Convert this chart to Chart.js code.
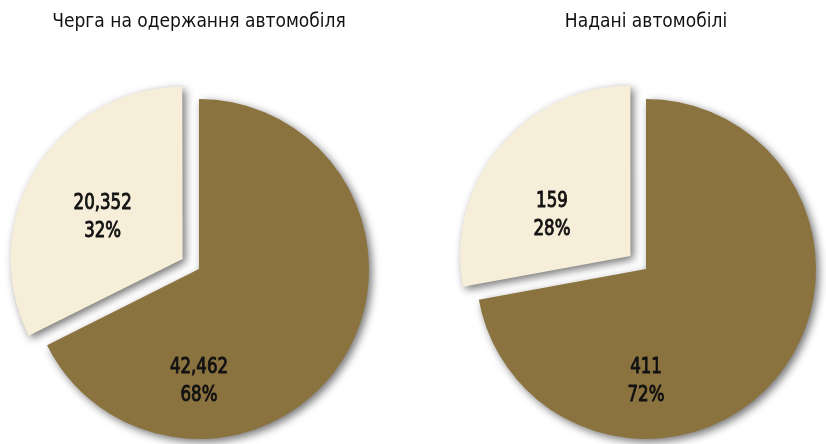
<!DOCTYPE html>
<html>
<head>
<meta charset="utf-8">
<script src="https://cdn.jsdelivr.net/npm/chart.js"></script>
<style>
  html, body { margin: 0; padding: 0; background: #fff; overflow: hidden; }
  .wrap { position: absolute; top: 0; width: 413px; height: 444px; }
  #left { left: 0; }
  #right { left: 413px; }
</style>
</head>
<body>
<div class="wrap" id="left"><canvas id="queueChart" width="413" height="444"></canvas></div>
<div class="wrap" id="right"><canvas id="givenChart" width="413" height="444"></canvas></div>
<script>
const queueTitle = "Черга на одержання автомобіля";
const givenTitle = "Надані автомобілі";
const sliceLabels = ["Решта", "Частка"];
const queueValues = [42462, 20352];
const givenValues = [411, 159];
const sliceColors = ["#8b7340", "#f6eed8"];

const FONT = "'DejaVu Sans Condensed', 'Open Sans', sans-serif";

const shadowPlugin = {
  id: "sliceShadow",
  beforeDatasetsDraw(chart) {
    const ctx = chart.ctx;
    ctx.save();
    ctx.shadowColor = "rgba(0,0,0,0.55)";
    ctx.shadowBlur = 8;
    ctx.shadowOffsetX = 3;
    ctx.shadowOffsetY = 3;
  },
  afterDatasetsDraw(chart) {
    chart.ctx.restore();
  }
};

const valueLabelPlugin = {
  id: "valueLabels",
  afterDatasetsDraw(chart, args, opts) {
    const ctx = chart.ctx;
    const meta = chart.getDatasetMeta(0);
    const values = chart.data.datasets[0].data;
    const total = values.reduce((a, b) => a + b, 0);
    meta.data.forEach((arc, i) => {
      const p = arc.getProps(["x", "y", "startAngle", "endAngle", "outerRadius", "circumference"], true);
      // same shift the arc uses when it is pulled out
      const off = (arc.options.offset || 0) / 4;
      const fix = 1 - Math.sin(Math.min(Math.PI, p.circumference || 0));
      const t = off * (1 + fix);
      const half = (p.startAngle + p.endAngle) / 2;
      const cx = p.x + Math.cos(half) * t;
      const cy = p.y + Math.sin(half) * t;
      const pos = opts.positions[i];
      const pct = Math.round(values[i] / total * 100) + "%";
      ctx.save();
      ctx.translate(cx + pos[0] * p.outerRadius, cy + pos[1] * p.outerRadius);
      ctx.scale(0.84, 1);
      ctx.fillStyle = "#111";
      ctx.strokeStyle = "#111";
      ctx.lineWidth = 0.9;
      ctx.font = "22px " + FONT;
      ctx.textAlign = "center";
      ctx.textBaseline = "middle";
      const top = values[i].toLocaleString("en-US");
      ctx.fillText(top, 0, -14);
      ctx.strokeText(top, 0, -14);
      ctx.fillText(pct, 0, 14);
      ctx.strokeText(pct, 0, 14);
      ctx.restore();
    });
  }
};

function makePie(id, title, values, offsets, padding) {
  return new Chart(document.getElementById(id), {
    type: "pie",
    data: {
      labels: sliceLabels,
      datasets: [{
        data: values,
        backgroundColor: sliceColors,
        borderWidth: 0,
        offset: offsets,
        hoverOffset: 0,
        clip: false
      }]
    },
    options: {
      responsive: false,
      animation: false,
      radius: 170,
      layout: { padding: padding },
      plugins: {
        legend: { display: false },
        tooltip: { enabled: false },
        title: {
          display: true,
          text: title,
          color: "#111",
          font: { family: FONT, size: 19, weight: "normal", lineHeight: 1.2 },
          padding: { top: 11, bottom: 60.2 }
        },
        valueLabels: {
          positions: [[0, 0.66], [-0.46, -0.24]]
        }
      }
    },
    plugins: [shadowPlugin, valueLabelPlugin]
  });
}

makePie("queueChart", queueTitle, queueValues, [0, 77], { left: 0, right: 15, top: 0, bottom: 0 });
makePie("givenChart", givenTitle, givenValues, [0, 81], { left: 53, right: 0, top: 0, bottom: 0 });
</script>
</body>
</html>
